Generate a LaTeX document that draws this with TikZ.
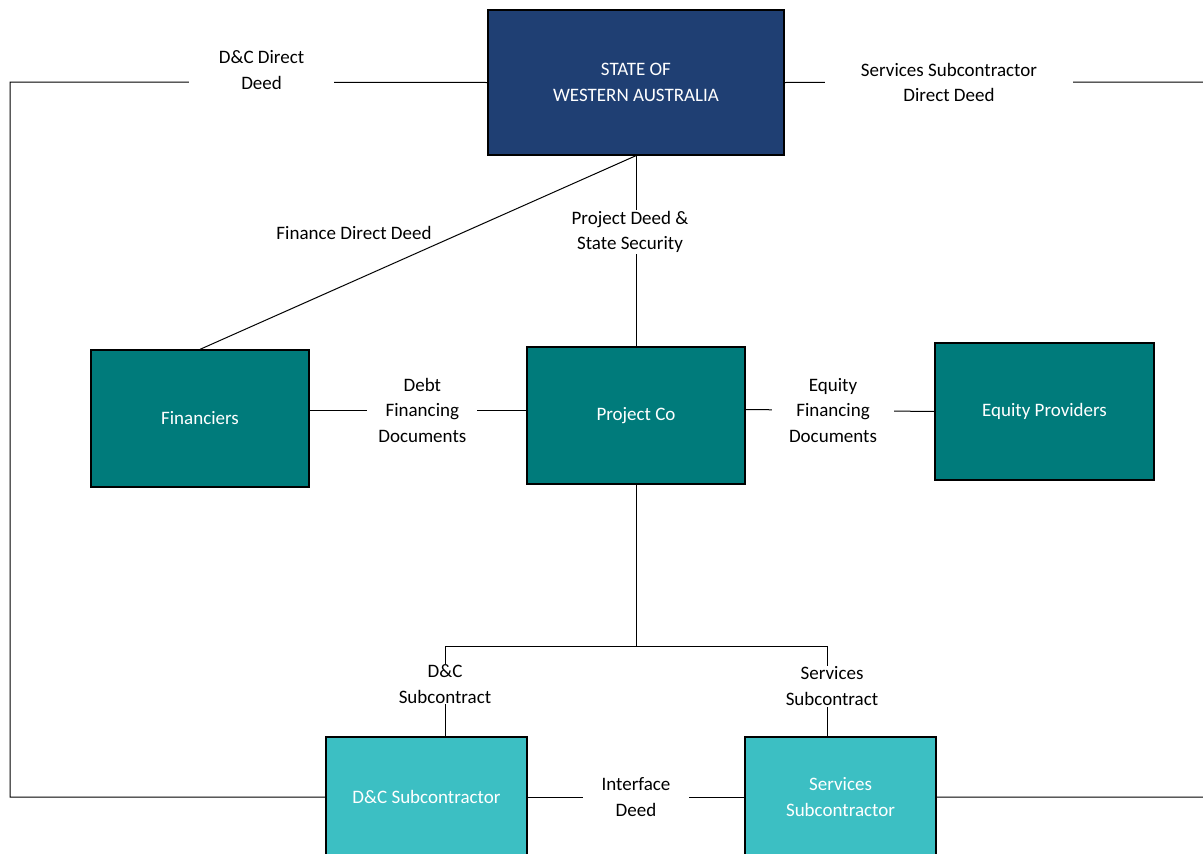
\documentclass[tikz,border=0pt]{standalone}
\usepackage{fontspec}
\setmainfont{Carlito}
\definecolor{stateblue}{RGB}{31,63,115}
\definecolor{coteal}{RGB}{0,123,123}
\definecolor{subteal}{RGB}{60,191,195}

\begin{document}
\begin{tikzpicture}[x=1pt, y=-1pt, line width=1pt,
    every node/.style={font=\fontsize{19}{25.5}\selectfont, align=center},
    party/.style={draw=black, line width=1.3pt, text=white, inner sep=0pt,
                  minimum width=218pt, minimum height=137pt},
    deed/.style={fill=white, inner ysep=1pt, inner xsep=12pt}]
  \useasboundingbox (0,0) rectangle (1203,854);

  % Parties
  \begin{scope}[every node/.append style={party}]
    \node[fill=stateblue, minimum width=296pt, minimum height=145pt] (state) at (636,82.5) {STATE OF\\WESTERN AUSTRALIA};

    \node[fill=coteal] (fin) at (200,418.5) {Financiers};
    \node[fill=coteal] (pco) at (636,415.5) {Project Co};
    \node[fill=coteal, minimum width=219pt] (eqp) at (1044.5,411.5) {Equity Providers};

    \node[fill=subteal, minimum width=201pt, minimum height=120pt] (dcs) at (426.5,797) {D\&C Subcontractor};
    \node[fill=subteal, minimum width=191pt, minimum height=120pt] (svs) at (840.5,797) {Services\\Subcontractor};
  \end{scope}

  \coordinate (split) at (636,646);
  \coordinate (dcjoin) at (445,646);
  \coordinate (svjoin) at (827,646);

  % Direct deeds
  \draw (state.west) -- node[deed, pos=0.473, yshift=12pt, inner xsep=30pt] {D\&C Direct\\Deed} (10,82) |- (dcs.west);
  \draw (state.east) -- node[deed, pos=0.39, inner xsep=36pt] {Services Subcontractor\\Direct Deed} (1206,82) |- (svs.east);
  \draw (state.south) -- (fin.north);
  \node (finlbl) at (354,233) {Finance Direct Deed};

  % State to Project Co
  \draw (state.south) -- node[deed, pos=0.4, xshift=-6pt, inner xsep=4pt] {Project Deed \&\\State Security} (pco.north);

  % Financing
  \draw ([yshift=8.5pt]fin.east) -- node[deed, pos=0.52, inner xsep=11pt] {Debt\\Financing\\Documents} ([yshift=5.5pt]pco.west);
  \draw ([yshift=6pt]pco.east) -- node[deed, pos=0.463, inner xsep=17pt] {Equity\\Financing\\Documents} (eqp.west);

  % Subcontracts
  \draw (pco.south) -- (split);
  \draw (dcjoin) -- (svjoin);
  \draw (dcjoin) -- node[deed, pos=0.42, inner xsep=4pt] {D\&C\\Subcontract} (dcjoin |- dcs.north);
  \draw (svjoin) -- node[deed, pos=0.445, xshift=5pt, inner xsep=4pt] {Services\\Subcontract} (svjoin |- svs.north);
  \draw (dcs.east) -- node[deed, inner xsep=19pt] {Interface\\Deed} (svs.west);
\end{tikzpicture}
\end{document}
